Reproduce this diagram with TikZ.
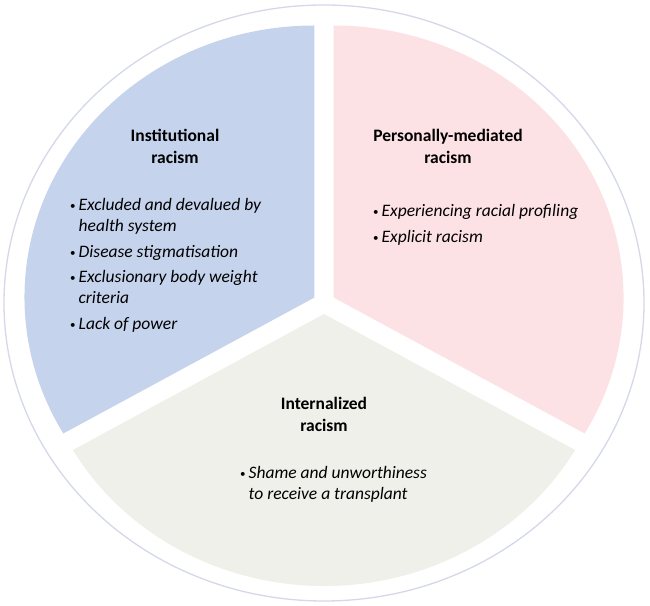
\documentclass[tikz,border=0pt]{standalone}
\usepackage{fontspec}
\setmainfont{Carlito}
\usetikzlibrary{calc}
\definecolor{instBlue}{RGB}{197,211,236}
\definecolor{persPink}{RGB}{253,226,229}
\definecolor{intGreen}{RGB}{238,240,233}
\definecolor{rimGrey}{RGB}{212,216,232}
\newcommand{\bul}{\raisebox{1pt}{\upshape\fontsize{11}{11}\selectfont\textbullet}}

\begin{document}
\begin{tikzpicture}[x=1pt, y=1pt, every node/.style={inner sep=0pt},
  head/.style={font=\fontsize{17.5}{22}\selectfont\bfseries, align=center},
  items/.style={font=\fontsize{17.5}{21}\selectfont\itshape, anchor=north west}]
\useasboundingbox (0,0) rectangle (650,605);
\coordinate (c) at (324,302);
\draw[rimGrey, line width=1.3] (c) ellipse [x radius=320, y radius=298];
\coordinate (cInst) at ($(c)+(150:11)$);
\coordinate (cPers) at ($(c)+(30:11)$);
\coordinate (cInt)  at ($(c)+(270:11)$);
\fill[instBlue] (cInst) -- ++(90:290 and 272) arc[start angle=90, end angle=210, x radius=290, y radius=272] -- cycle;
\fill[persPink] (cPers) -- ++(-30:290 and 272) arc[start angle=-30, end angle=90, x radius=290, y radius=272] -- cycle;
\fill[intGreen] (cInt) -- ++(210:290 and 272) arc[start angle=210, end angle=330, x radius=290, y radius=272] -- cycle;

\node[head] (instHead) at (175,459) {Institutional\\racism};
\node[head] (persHead) at (448,459) {Personally-mediated\\racism};
\node[head] (intHead)  at (324,191) {Internalized\\racism};

\node[items] (instList) at (70,409) {\begin{tabular}{@{}l@{\hspace{3pt}}l@{}}
\bul & Excluded and devalued by\\
     & health system\\[4.5pt]
\bul & Disease stigmatisation\\[4.5pt]
\bul & Exclusionary body weight\\
     & criteria\\[4.5pt]
\bul & Lack of power
\end{tabular}};
\node[items] (persList) at (373,403) {\begin{tabular}{@{}l@{\hspace{3pt}}l@{}}
\bul & Experiencing racial profiling\\[5pt]
\bul & Explicit racism
\end{tabular}};
\node[items] (intList) at (240,141) {\begin{tabular}{@{}l@{\hspace{3pt}}l@{}}
\bul & Shame and unworthiness\\
     & to receive a transplant
\end{tabular}};
\end{tikzpicture}
\end{document}
